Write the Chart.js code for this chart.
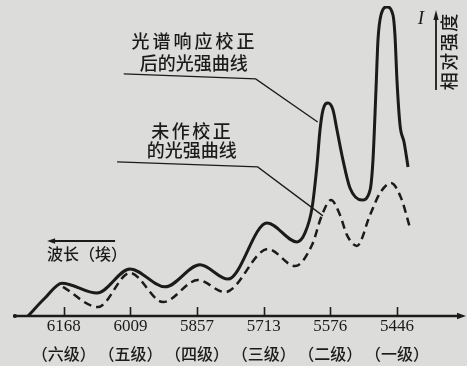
<!DOCTYPE html>
<html>
<head>
<meta charset="utf-8">
<script src="https://cdn.jsdelivr.net/npm/chart.js@4/dist/chart.umd.min.js"></script>
<style>
  html, body { margin: 0; padding: 0; background: #dcdcda; }
  #wrap { width: 467px; height: 366px; }
</style>
</head>
<body>
<div id="wrap"><canvas id="c" width="467" height="366"></canvas></div>
<script>
// Grating orders along the wavelength axis (equally spaced in wavenumber)
const tickPos = [0, 1, 2, 3, 4, 5];
const tickWavelengths = ['6168', '6009', '5857', '5713', '5576', '5446'];
const tickOrders = ['（六级）', '（五级）', '（四级）', '（三级）', '（二级）', '（一级）'];

// Intensity after spectral-response correction (x in order units, I relative)
const correctedX = [-0.537, -0.282, -0.027, 0.498, 0.994, 1.519, 2.044, 2.464, 3.050, 3.500,
  3.620, 3.725, 3.800, 3.845, 3.890, 3.965, 4.040, 4.100, 4.190, 4.295, 4.475, 4.596, 4.640,
  4.685, 4.715, 4.760, 4.850, 4.940, 4.970, 5.000, 5.046, 5.106, 5.166];
const correctedI = [0, 5.8, 10.6, 7.4, 15.2, 9.4, 16.5, 11.9, 30.0, 23.9,
  26.8, 34.8, 48.7, 60.0, 66.5, 68.7, 66.5, 60.0, 50.3, 41.3, 37.4, 40.6, 50.3,
  72.9, 89.0, 97.1, 99.7, 97.1, 90.6, 76.1, 61.6, 56.1, 48.1];

// Uncorrected intensity
const rawX = [-0.012, 0.513, 0.994, 1.489, 2.014, 2.419, 3.065, 3.470, 3.725, 3.875,
  4.010, 4.145, 4.250, 4.400, 4.596, 4.746, 4.911, 5.061, 5.196];
const rawI = [9.4, 2.9, 13.9, 4.5, 11.6, 7.7, 21.6, 16.1, 22.9, 32.6,
  37.4, 32.6, 26.1, 22.6, 32.6, 39.7, 42.9, 38.1, 28.4];

const INK = '#1b1b1b';
const PAPER = '#dcdcda';
const CJK = '"Noto Sans CJK SC", "Noto Sans CJK JP", sans-serif';
const SERIF = '"Liberation Serif", "DejaVu Serif", serif';

const toPoints = (xs, ys) => xs.map((x, i) => ({ x: x, y: ys[i] }));
const setTicks = scale => { scale.ticks = tickPos.map(v => ({ value: v })); };

// Annotation placement, in data units
const notes = {
  corrected: { lines: ['光谱响应校正', '后的光强曲线'], spacing: [3, 0], at: [[1.94, 88.5], [1.95, 81.5]],
               leader: [[0.90, 78.1], [2.88, 76.5], [3.81, 62.6]] },
  raw: { lines: ['未作校正', '的光强曲线'], spacing: [2.5, 0], at: [[1.91, 59.7], [1.92, 53.4]],
         leader: [[0.80, 49.7], [2.91, 48.1], [3.89, 32.3]] },
  wave: { text: '波长（埃）', at: [0.35, 20.0], arrow: [[0.77, 24.2], [-0.25, 24.2]] },
  intensity: { symbol: 'I', symbolAt: [5.36, 95.8], title: '相对强度', titleAt: [5.78, 85.2],
               arrow: [[5.586, 72.9], [5.586, 98.7]] }
};

function arrowHead(ctx, x0, y0, x1, y1, len, half) {
  const a = Math.atan2(y1 - y0, x1 - x0);
  ctx.beginPath();
  ctx.moveTo(x1, y1);
  ctx.lineTo(x1 - len * Math.cos(a) + half * Math.sin(a), y1 - len * Math.sin(a) - half * Math.cos(a));
  ctx.lineTo(x1 - len * Math.cos(a) - half * Math.sin(a), y1 - len * Math.sin(a) + half * Math.cos(a));
  ctx.closePath();
  ctx.fill();
}

function spacedText(ctx, text, cx, cy, spacing) {
  ctx.letterSpacing = spacing + 'px';
  const w = ctx.measureText(text).width - spacing;
  ctx.textAlign = 'left';
  ctx.fillText(text, cx - w / 2, cy);
  ctx.letterSpacing = '0px';
}

const decor = {
  id: 'decor',
  beforeDraw(chart) {
    const ctx = chart.ctx;
    ctx.save();
    ctx.fillStyle = PAPER;
    ctx.fillRect(0, 0, chart.width, chart.height);
    ctx.restore();
  },
  afterDatasetsDraw(chart) {
    const ctx = chart.ctx;
    const xs = chart.scales.x, ys = chart.scales.y;
    const X = v => xs.getPixelForValue(v), Y = v => ys.getPixelForValue(v);
    const area = chart.chartArea;
    ctx.save();
    ctx.strokeStyle = INK;
    ctx.fillStyle = INK;

    // baseline with arrow
    ctx.lineWidth = 2.6;
    ctx.beginPath();
    ctx.moveTo(area.left, area.bottom);
    ctx.lineTo(area.right - 2, area.bottom);
    ctx.stroke();
    arrowHead(ctx, area.left, area.bottom, area.right + 3, area.bottom, 9, 3.2);
    ctx.beginPath();
    ctx.arc(area.left + 2, area.bottom, 2, 0, Math.PI * 2);
    ctx.fill();

    // order tick marks, pointing up
    ctx.lineWidth = 1.6;
    tickPos.forEach(v => {
      const p = Math.round(X(v)) + 0.5;
      ctx.beginPath();
      ctx.moveTo(p, area.bottom);
      ctx.lineTo(p, area.bottom - 9);
      ctx.stroke();
    });

    // curve labels with leader lines
    ctx.textBaseline = 'middle';
    ctx.font = '500 18px ' + CJK;
    [notes.corrected, notes.raw].forEach(n => {
      n.lines.forEach((t, i) => spacedText(ctx, t, X(n.at[i][0]), Y(n.at[i][1]), n.spacing[i]));
      ctx.lineWidth = 1.3;
      ctx.beginPath();
      n.leader.forEach((p, i) => (i ? ctx.lineTo(X(p[0]), Y(p[1])) : ctx.moveTo(X(p[0]), Y(p[1]))));
      ctx.stroke();
    });

    // wavelength direction
    const w = notes.wave;
    ctx.lineWidth = 2;
    ctx.beginPath();
    ctx.moveTo(X(w.arrow[0][0]), Y(w.arrow[0][1]));
    ctx.lineTo(X(w.arrow[1][0]) + 4, Y(w.arrow[1][1]));
    ctx.stroke();
    arrowHead(ctx, X(w.arrow[0][0]), Y(w.arrow[0][1]), X(w.arrow[1][0]), Y(w.arrow[1][1]), 8, 2.8);
    ctx.font = '500 16px ' + CJK;
    spacedText(ctx, w.text, X(w.at[0]), Y(w.at[1]), 0);

    // intensity axis marker
    const s = notes.intensity;
    ctx.font = 'italic 19px ' + SERIF;
    ctx.textAlign = 'center';
    ctx.fillText(s.symbol, X(s.symbolAt[0]), Y(s.symbolAt[1]));
    ctx.lineWidth = 1.8;
    ctx.beginPath();
    ctx.moveTo(X(s.arrow[0][0]), Y(s.arrow[0][1]));
    ctx.lineTo(X(s.arrow[1][0]), Y(s.arrow[1][1]) + 4);
    ctx.stroke();
    arrowHead(ctx, X(s.arrow[0][0]), Y(s.arrow[0][1]), X(s.arrow[1][0]), Y(s.arrow[1][1]), 10, 2.6);
    ctx.translate(X(s.titleAt[0]), Y(s.titleAt[1]));
    ctx.rotate(-Math.PI / 2);
    ctx.font = '500 18px ' + CJK;
    spacedText(ctx, s.title, 0, 0, 1.5);
    ctx.restore();
  }
};

new Chart(document.getElementById('c'), {
  type: 'line',
  data: {
    datasets: [
      { label: '光谱响应校正后的光强曲线', data: toPoints(correctedX, correctedI),
        borderColor: INK, borderWidth: 3, pointRadius: 0, fill: false,
        cubicInterpolationMode: 'monotone' },
      { label: '未作校正的光强曲线', data: toPoints(rawX, rawI),
        borderColor: INK, borderWidth: 2.5, borderDash: [8, 5], pointRadius: 0, fill: false,
        cubicInterpolationMode: 'monotone' }
    ]
  },
  options: {
    responsive: false,
    animation: false,
    devicePixelRatio: 1,
    layout: { padding: { left: 13, right: 4, top: 6, bottom: -5 } },
    plugins: { legend: { display: false }, tooltip: { enabled: false } },
    scales: {
      x: {
        type: 'linear', min: -0.762, max: 5.991, weight: 0,
        afterBuildTicks: setTicks,
        grid: { display: false, drawTicks: false },
        border: { display: false },
        ticks: { color: INK, padding: 1, font: { family: SERIF, size: 17, lineHeight: 1.1 },
                 maxRotation: 0, autoSkip: false,
                 callback: (v, i) => tickWavelengths[i] }
      },
      x2: {
        type: 'linear', position: 'bottom', min: -0.762, max: 5.991, weight: 1,
        afterBuildTicks: setTicks,
        grid: { display: false, drawTicks: false },
        border: { display: false },
        ticks: { color: INK, padding: 7.55, font: { family: CJK, size: 16, weight: 500, lineHeight: 1.2 },
                 maxRotation: 0, autoSkip: false,
                 callback: (v, i) => tickOrders[i] }
      },
      y: { type: 'linear', min: 0, max: 100, display: false }
    }
  },
  plugins: [decor]
});
</script>
</body>
</html>
